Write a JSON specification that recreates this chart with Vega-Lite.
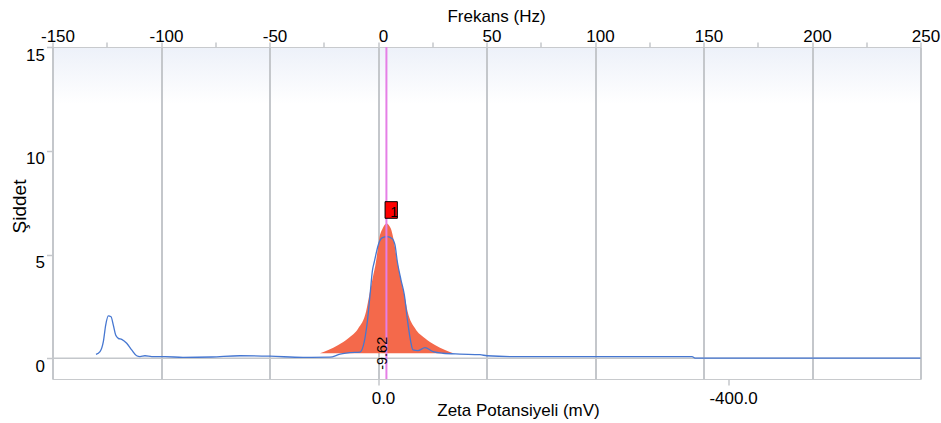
{
  "$schema": "https://vega.github.io/schema/vega-lite/v6.json",
  "width": 868,
  "height": 332,
  "autosize": {"type": "none"},
  "padding": {"left": 52.5, "top": 47, "right": 20.5, "bottom": 44},
  "background": "#ffffff",
  "config": {
    "font": "Liberation Sans",
    "view": {
      "stroke": "#c8cacd",
      "strokeWidth": 1,
      "fill": {"gradient": "linear", "x1": 0, "y1": 0, "x2": 0, "y2": 1, "stops": [{"offset": 0, "color": "#edf1f9"}, {"offset": 0.17, "color": "#ffffff"}, {"offset": 1, "color": "#ffffff"}]}
    },
    "axis": {
      "domain": false,
      "labelFont": "Liberation Sans",
      "labelFontSize": 17,
      "labelColor": "#000000",
      "titleFont": "Liberation Sans",
      "titleFontSize": 17,
      "titleFontWeight": "normal",
      "titleColor": "#000000",
      "tickColor": "#c4c7cb"
    }
  },
  "datasets": {
    "orange": [
      {"mv": 66.3, "val": 0.24}, {"mv": 56.8, "val": 0.40}, {"mv": 45.4, "val": 0.64}, {"mv": 33.9, "val": 0.96},
      {"mv": 22.5, "val": 1.44}, {"mv": 13.7, "val": 2.24}, {"mv": 9.9, "val": 3.05}, {"mv": 6.1, "val": 3.85},
      {"mv": 2.3, "val": 4.65}, {"mv": -1.5, "val": 5.78}, {"mv": -5.4, "val": 6.26}, {"mv": -9.62, "val": 6.50},
      {"mv": -14.5, "val": 6.26}, {"mv": -17.5, "val": 5.78}, {"mv": -22.1, "val": 4.65}, {"mv": -25.9, "val": 3.85},
      {"mv": -30.1, "val": 3.05}, {"mv": -33.9, "val": 2.24}, {"mv": -42.3, "val": 1.44}, {"mv": -53.7, "val": 0.96},
      {"mv": -65.1, "val": 0.64}, {"mv": -76.6, "val": 0.40}, {"mv": -86.1, "val": 0.24}
    ],
    "blue": [
      {"mv": 322.3, "val": 0.19}, {"mv": 317.7, "val": 0.32}, {"mv": 313.9, "val": 0.80}, {"mv": 311.2, "val": 1.60},
      {"mv": 308.2, "val": 2.04}, {"mv": 305.1, "val": 2.00}, {"mv": 302.5, "val": 1.60}, {"mv": 299.8, "val": 1.12},
      {"mv": 296.8, "val": 0.96}, {"mv": 292.9, "val": 0.91}, {"mv": 287.2, "val": 0.72}, {"mv": 281.5, "val": 0.40},
      {"mv": 275.8, "val": 0.12}, {"mv": 272.0, "val": 0.08}, {"mv": 266.3, "val": 0.12}, {"mv": 258.6, "val": 0.08},
      {"mv": 243.4, "val": 0.08}, {"mv": 222.9, "val": 0.04}, {"mv": 190.0, "val": 0.06}, {"mv": 157.7, "val": 0.12},
      {"mv": 123.4, "val": 0.10}, {"mv": 85.7, "val": 0.04}, {"mv": 54.9, "val": 0.05}, {"mv": 43.4, "val": 0.20},
      {"mv": 32.0, "val": 0.27}, {"mv": 20.6, "val": 0.30}, {"mv": 15.7, "val": 0.80}, {"mv": 12.2, "val": 1.76},
      {"mv": 9.1, "val": 3.05}, {"mv": 6.3, "val": 4.25}, {"mv": 4.2, "val": 4.65}, {"mv": -0.3, "val": 5.46},
      {"mv": -4.6, "val": 5.80}, {"mv": -10.6, "val": 5.86}, {"mv": -16.0, "val": 5.77}, {"mv": -19.4, "val": 5.46},
      {"mv": -22.1, "val": 4.65}, {"mv": -26.3, "val": 3.77}, {"mv": -30.1, "val": 3.05}, {"mv": -33.9, "val": 1.76},
      {"mv": -37.4, "val": 0.80}, {"mv": -40.0, "val": 0.40}, {"mv": -45.7, "val": 0.37}, {"mv": -53.7, "val": 0.51},
      {"mv": -62.9, "val": 0.32}, {"mv": -74.3, "val": 0.24}, {"mv": -93.7, "val": 0.20}, {"mv": -116.6, "val": 0.17},
      {"mv": -124.6, "val": 0.12}, {"mv": -150.9, "val": 0.08}, {"mv": -358.9, "val": 0.08}, {"mv": -362.3, "val": 0.01},
      {"mv": -620.0, "val": 0.01}
    ],
    "peak": [{"mv": -9.62, "peak": 6.5, "label": "-9.62", "marker": "1"}],
    "freq": [{"hz": -150}, {"hz": 250}]
  },
  "layer": [
    {
      "data": {"name": "freq"},
      "mark": {"type": "rule", "opacity": 0},
      "encoding": {
        "x": {
          "field": "hz", "type": "quantitative",
          "scale": {"domain": [-150, 250], "nice": false, "zero": false},
          "axis": {
            "orient": "top",
            "title": "Frekans (Hz)",
            "titleX": 443.5,
            "titlePadding": 2,
            "values": [-150, -125, -100, -75, -50, -25, 0, 25, 50, 75, 100, 125, 150, 175, 200, 225, 250],
            "labelExpr": "datum.value % 50 == 0 ? replace(datum.label, '\u2212', '-') : ''",
            "labelFlush": false,
            "labelOverlap": false,
            "labelOffset": 5,
            "labelPadding": -3,
            "tickSize": 5,
            "tickWidth": 1.5,
            "grid": true,
            "gridColor": "#c4c7cb",
            "gridWidth": 2,
            "gridOpacity": {"condition": {"test": "datum.value % 50 == 0", "value": 1}, "value": 0}
          }
        }
      }
    },
    {
      "layer": [
        {
          "data": {"name": "orange"},
          "mark": {"type": "area", "color": "#f4694b", "interpolate": "monotone", "opacity": 1},
          "encoding": {
            "x": {
              "field": "mv", "type": "quantitative",
              "scale": {"domain": [372, -620], "nice": false, "zero": false},
              "axis": {
                "orient": "bottom",
                "title": "Zeta Potansiyeli (mV)",
                "titleX": 465.5,
                "titlePadding": -4,
                "values": [0, -400],
                "format": ".1f",
                "labelExpr": "replace(datum.label, '\u2212', '-')",
                "labelFlush": false,
                "labelOverlap": false,
                "labelOffset": 5,
                "labelPadding": 5,
                "tickSize": 6,
                "tickWidth": 1.5,
                "grid": false
              }
            },
            "y": {
              "field": "val", "type": "quantitative",
              "scale": {"domain": [-1, 15], "nice": false, "zero": false},
              "axis": {
                "orient": "left",
                "title": "Şiddet",
                "titleFontSize": 19,
                "titlePadding": -4,
                "titleY": 159,
                "values": [0, 5, 10, 15],
                "labelBaseline": "top",
                "labelPadding": 2,
                "tickSize": 6,
                "tickWidth": 1.5,
                "grid": false
              }
            },
            "y2": {"datum": 0.24}
          }
        },
        {
          "data": {"name": "peak"},
          "mark": {"type": "rule", "color": "#c4c7cb", "strokeWidth": 1.5},
          "encoding": {
            "y": {"datum": 0, "type": "quantitative"}
          }
        },
        {
          "data": {"name": "blue"},
          "mark": {"type": "line", "color": "#4677d1", "strokeWidth": 1.3, "interpolate": "monotone"},
          "encoding": {
            "x": {"field": "mv", "type": "quantitative"},
            "y": {"field": "val", "type": "quantitative"}
          }
        },
        {
          "data": {"name": "peak"},
          "mark": {"type": "rule", "color": "#e57fe6", "strokeWidth": 2},
          "encoding": {
            "x": {"field": "mv", "type": "quantitative"}
          }
        },
        {
          "data": {"name": "peak"},
          "mark": {"type": "point", "shape": "M-0.74,-1H0.74V1H-0.74Z", "size": 276, "filled": true, "fill": "#ff0000", "stroke": "#000000", "strokeWidth": 1, "opacity": 1, "xOffset": 4.8, "yOffset": -13.4},
          "encoding": {
            "x": {"field": "mv", "type": "quantitative"},
            "y": {"field": "peak", "type": "quantitative"}
          }
        },
        {
          "data": {"name": "peak"},
          "mark": {"type": "text", "font": "Liberation Sans", "fontSize": 14, "color": "#000000", "align": "center", "baseline": "middle", "dx": 7.6, "dy": -10.7},
          "encoding": {
            "x": {"field": "mv", "type": "quantitative"},
            "y": {"field": "peak", "type": "quantitative"},
            "text": {"field": "marker"}
          }
        },
        {
          "data": {"name": "peak"},
          "mark": {"type": "text", "font": "Liberation Sans", "fontSize": 14.5, "color": "#000000", "align": "center", "baseline": "middle", "angle": 270, "dy": -3},
          "encoding": {
            "x": {"field": "mv", "type": "quantitative"},
            "y": {"datum": 0.24, "type": "quantitative"},
            "text": {"field": "label"}
          }
        }
      ]
    }
  ],
  "resolve": {"scale": {"x": "independent"}, "axis": {"x": "independent"}}
}
